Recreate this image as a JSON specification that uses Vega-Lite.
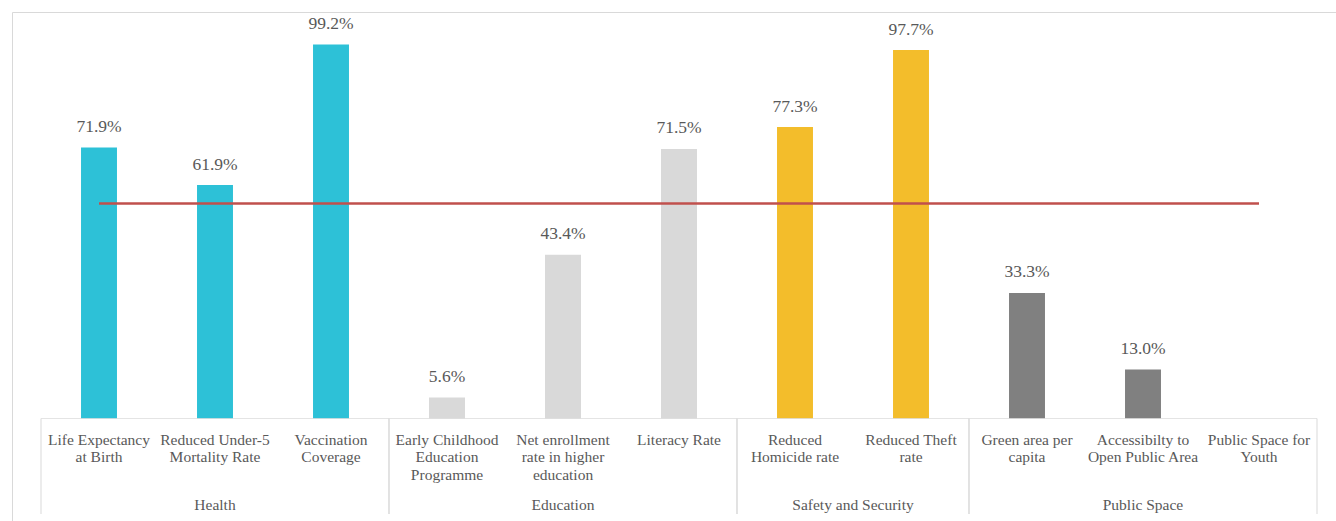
{
  "$schema": "https://vega.github.io/schema/vega-lite/v6.json",
  "autosize": {"type": "none"},
  "padding": {"left": 12, "top": 12, "right": 0, "bottom": 0},
  "width": 1324,
  "height": 509,
  "background": "white",
  "config": {
    "view": {"stroke": "#d9d9d9", "strokeWidth": 1}
  },
  "datasets": {
    "indicators": [
      {"cat": "Life Expectancy at Birth", "label": "Life Expectancy\nat Birth", "group": "Health", "value": 0.719},
      {"cat": "Reduced Under-5 Mortality Rate", "label": "Reduced Under-5\nMortality Rate", "group": "Health", "value": 0.619},
      {"cat": "Vaccination Coverage", "label": "Vaccination\nCoverage", "group": "Health", "value": 0.992},
      {"cat": "Early Childhood Education Programme", "label": "Early Childhood\nEducation\nProgramme", "group": "Education", "value": 0.056},
      {"cat": "Net enrollment rate in higher education", "label": "Net enrollment\nrate in higher\neducation", "group": "Education", "value": 0.434},
      {"cat": "Literacy Rate", "label": "Literacy Rate", "group": "Education", "value": 0.715},
      {"cat": "Reduced Homicide rate", "label": "Reduced\nHomicide rate", "group": "Safety and Security", "value": 0.773},
      {"cat": "Reduced Theft rate", "label": "Reduced Theft\nrate", "group": "Safety and Security", "value": 0.977},
      {"cat": "Green area per capita", "label": "Green area per\ncapita", "group": "Public Space", "value": 0.333},
      {"cat": "Accessibilty to Open Public Area", "label": "Accessibilty to\nOpen Public Area", "group": "Public Space", "value": 0.13},
      {"cat": "Public Space for Youth", "label": "Public Space for\nYouth", "group": "Public Space", "value": null}
    ],
    "groups": [
      {"group": "Health", "first": "Life Expectancy at Birth", "last": "Vaccination Coverage", "mid": "Reduced Under-5 Mortality Rate", "n": 3},
      {"group": "Education", "first": "Early Childhood Education Programme", "last": "Literacy Rate", "mid": "Net enrollment rate in higher education", "n": 3},
      {"group": "Safety and Security", "first": "Reduced Homicide rate", "last": "Reduced Theft rate", "mid": "Reduced Homicide rate", "n": 2},
      {"group": "Public Space", "first": "Green area per capita", "last": "Public Space for Youth", "mid": "Accessibilty to Open Public Area", "n": 3}
    ]
  },
  "layer": [
    {
      "data": {"name": "indicators"},
      "mark": {"type": "bar", "width": {"band": 0.31}},
      "encoding": {
        "x": {
          "field": "cat", "type": "nominal", "axis": null,
          "scale": {
            "domain": ["Life Expectancy at Birth", "Reduced Under-5 Mortality Rate", "Vaccination Coverage", "Early Childhood Education Programme", "Net enrollment rate in higher education", "Literacy Rate", "Reduced Homicide rate", "Reduced Theft rate", "Green area per capita", "Accessibilty to Open Public Area", "Public Space for Youth"],
            "paddingInner": 0, "paddingOuter": 0.2069, "align": 0.6042
          }
        },
        "y": {
          "field": "value", "type": "quantitative", "axis": null,
          "scale": {"domain": [-0.2718, 1.078], "nice": false, "zero": false}
        },
        "y2": {"datum": 0},
        "color": {
          "field": "group", "type": "nominal", "legend": null,
          "scale": {
            "domain": ["Health", "Education", "Safety and Security", "Public Space"],
            "range": ["#2DC1D7", "#D9D9D9", "#F3BD2B", "#808080"]
          }
        }
      }
    },
    {
      "data": {"name": "indicators"},
      "mark": {"type": "line", "color": "#C0504D", "strokeWidth": 2.5},
      "encoding": {
        "x": {"field": "cat", "type": "nominal"},
        "y": {"datum": 0.57}
      }
    },
    {
      "data": {"name": "indicators"},
      "mark": {"type": "tick", "orient": "horizontal", "size": 116, "thickness": 1, "color": "#d9d9d9"},
      "encoding": {
        "x": {"field": "cat", "type": "nominal"},
        "y": {"datum": 0}
      }
    },
    {
      "data": {"name": "indicators"},
      "mark": {"type": "text", "font": "Liberation Serif", "color": "#595959", "dy": -15.5, "fontSize": 17.5, "baseline": "alphabetic", "align": "center"},
      "encoding": {
        "x": {"field": "cat", "type": "nominal"},
        "y": {"field": "value", "type": "quantitative"},
        "text": {"field": "value", "type": "quantitative", "format": ".1%"}
      }
    },
    {
      "data": {"name": "indicators"},
      "mark": {"type": "text", "font": "Liberation Serif", "color": "#595959", "lineBreak": "\n", "fontSize": 15.5, "lineHeight": 17.5, "baseline": "alphabetic", "align": "center"},
      "encoding": {
        "x": {"field": "cat", "type": "nominal"},
        "y": {"datum": -0.0702},
        "text": {"field": "label", "type": "nominal"}
      }
    },
    {
      "data": {"name": "groups"},
      "mark": {"type": "rule", "color": "#d9d9d9", "strokeWidth": 1},
      "encoding": {
        "x": {"field": "first", "type": "nominal", "bandPosition": 0},
        "y": {"datum": 0},
        "y2": {"datum": -0.2532}
      }
    },
    {
      "data": {"name": "groups"},
      "mark": {"type": "rule", "color": "#d9d9d9", "strokeWidth": 1},
      "encoding": {
        "x": {"field": "last", "type": "nominal", "bandPosition": 1},
        "y": {"datum": 0},
        "y2": {"datum": -0.2532}
      }
    },
    {
      "data": {"name": "groups"},
      "transform": [{"filter": "datum.n == 3"}],
      "mark": {"type": "text", "font": "Liberation Serif", "color": "#595959", "fontSize": 15.5, "baseline": "alphabetic", "align": "center"},
      "encoding": {
        "x": {"field": "mid", "type": "nominal", "bandPosition": 0.5},
        "y": {"datum": -0.2426},
        "text": {"field": "group", "type": "nominal"}
      }
    },
    {
      "data": {"name": "groups"},
      "transform": [{"filter": "datum.n == 2"}],
      "mark": {"type": "text", "font": "Liberation Serif", "color": "#595959", "fontSize": 15.5, "baseline": "alphabetic", "align": "center"},
      "encoding": {
        "x": {"field": "mid", "type": "nominal", "bandPosition": 1},
        "y": {"datum": -0.2426},
        "text": {"field": "group", "type": "nominal"}
      }
    }
  ]
}
